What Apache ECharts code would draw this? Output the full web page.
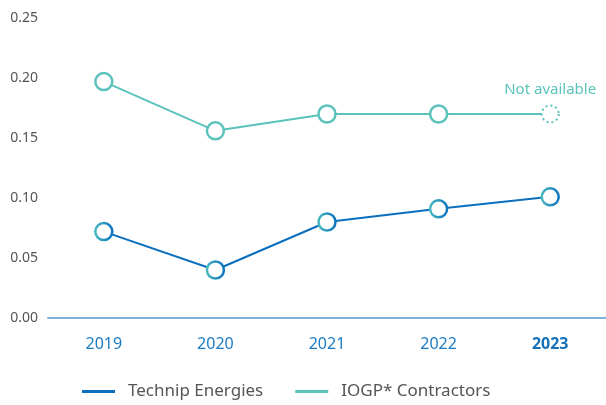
<!DOCTYPE html>
<html>
<head>
<meta charset="utf-8">
<script src="https://cdn.jsdelivr.net/npm/echarts@6/dist/echarts.min.js"></script>
<style>
  html, body { margin: 0; padding: 0; background: #fff; }
  #chart { width: 606px; height: 405px; }
</style>
</head>
<body>
<div id="chart"></div>
<script>
const years = ['2019', '2020', '2021', '2022', '2023']
const technipValues = [0.072, 0.04, 0.08, 0.091, 0.101]
const iogpValues = [0.197, 0.156, 0.17, 0.17, 0.17]
const yTicks = [0, 0.05, 0.1, 0.15, 0.2, 0.25]

const FONT = 'Noto Sans'
const BLUE = '#0b6fbd'
const TEAL = '#5bc3bb'

// gradient ring for the Technip markers
const ringGradient = {
  type: 'linear', x: 0, y: 0, x2: 1, y2: 0,
  colorStops: [
    { offset: 0, color: '#4cbcc0' },
    { offset: 1, color: '#0a6fbf' }
  ]
}

const iogpData = iogpValues.map((v, i) => {
  if (i === years.length - 1) {
    // last year is not available: dotted marker + label
    return {
      value: v,
      itemStyle: { borderType: [2, 3], borderWidth: 2, borderColor: TEAL },
      label: {
        show: true,
        position: 'top',
        distance: 7,
        formatter: 'Not available',
        color: TEAL,
        fontFamily: FONT,
        fontSize: 15
      }
    }
  }
  return v
})

const chart = echarts.init(document.getElementById('chart'))
chart.setOption({
  animation: false,
  grid: { left: 48, right: -2, top: 18, bottom: 87 },
  legend: {
    bottom: 0,
    left: 77,
    itemWidth: 33,
    itemHeight: 3,
    itemGap: 32,
    icon: 'rect',
    textStyle: { fontFamily: FONT, fontSize: 17, color: '#555', padding: [0, 0, 0, 8] },
    data: [
      { name: 'Technip Energies', itemStyle: { color: BLUE, borderWidth: 0 } },
      { name: 'IOGP* Contractors', itemStyle: { color: TEAL, borderWidth: 0 } }
    ]
  },
  xAxis: {
    type: 'category',
    data: years,
    boundaryGap: true,
    axisLine: { lineStyle: { color: '#7ab3dc', width: 2 } },
    axisTick: { show: false },
    axisLabel: {
      margin: 18,
      fontFamily: FONT,
      fontSize: 16,
      color: '#1a7cc3',
      formatter: v => v === '2023' ? '{b|' + v + '}' : v,
      rich: { b: { fontWeight: 'bold', fontFamily: FONT, fontSize: 16, color: '#1470b8' } }
    }
  },
  yAxis: {
    type: 'value',
    min: yTicks[0],
    max: yTicks[yTicks.length - 1],
    interval: 0.05,
    splitLine: { show: false },
    axisLine: { show: false },
    axisTick: { show: false },
    axisLabel: {
      margin: 10,
      fontFamily: FONT,
      fontSize: 14,
      color: '#555',
      formatter: v => v.toFixed(2)
    }
  },
  series: [
    {
      name: 'Technip Energies',
      type: 'line',
      data: technipValues,
      symbol: 'circle',
      symbolSize: 17,
      z: 3,
      lineStyle: { color: BLUE, width: 2 },
      itemStyle: { color: '#fff', borderColor: ringGradient, borderWidth: 2.5 }
    },
    {
      name: 'IOGP* Contractors',
      type: 'line',
      data: iogpData,
      symbol: 'circle',
      symbolSize: 17,
      z: 2,
      lineStyle: { color: TEAL, width: 2 },
      itemStyle: { color: '#fff', borderColor: TEAL, borderWidth: 2.5 }
    }
  ]
})
</script>
</body>
</html>
